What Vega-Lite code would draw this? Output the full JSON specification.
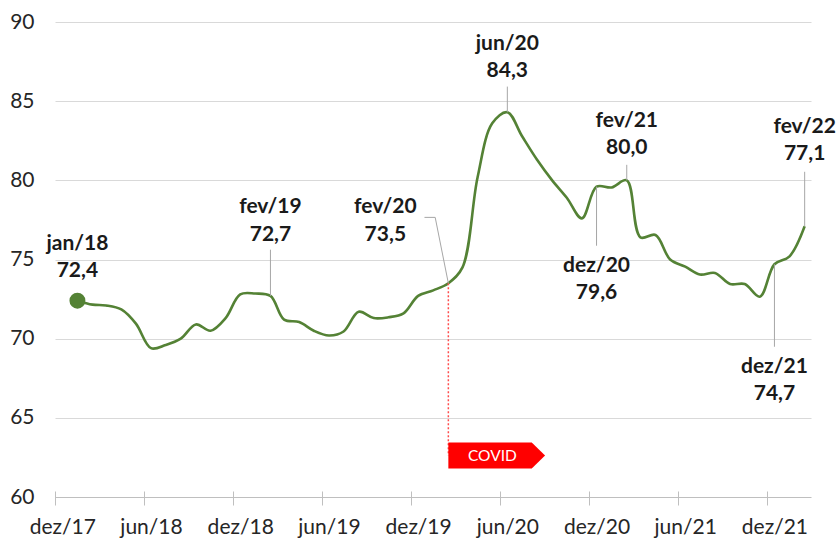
{
  "$schema": "https://vega.github.io/schema/vega-lite/v6.json",
  "width": 756,
  "height": 475,
  "autosize": {"type": "none"},
  "padding": {"left": 55, "top": 22, "right": 25, "bottom": 41},
  "background": "white",
  "config": {"view": {"stroke": null}, "font": "Lato"},
  "data": {"values": [
    {"m": "jan/18", "d": "2018-01-16", "v": 72.4},
    {"m": "fev/18", "d": "2018-02-16", "v": 72.15},
    {"m": "mar/18", "d": "2018-03-16", "v": 72.1},
    {"m": "abr/18", "d": "2018-04-16", "v": 71.85},
    {"m": "mai/18", "d": "2018-05-16", "v": 70.95},
    {"m": "jun/18", "d": "2018-06-16", "v": 69.4},
    {"m": "jul/18", "d": "2018-07-16", "v": 69.6},
    {"m": "ago/18", "d": "2018-08-16", "v": 70.0},
    {"m": "set/18", "d": "2018-09-16", "v": 70.9},
    {"m": "out/18", "d": "2018-10-16", "v": 70.5},
    {"m": "nov/18", "d": "2018-11-16", "v": 71.3},
    {"m": "dez/18", "d": "2018-12-16", "v": 72.8},
    {"m": "jan/19", "d": "2019-01-16", "v": 72.85},
    {"m": "fev/19", "d": "2019-02-16", "v": 72.7},
    {"m": "mar/19", "d": "2019-03-16", "v": 71.2},
    {"m": "abr/19", "d": "2019-04-16", "v": 71.05},
    {"m": "mai/19", "d": "2019-05-16", "v": 70.5},
    {"m": "jun/19", "d": "2019-06-16", "v": 70.2},
    {"m": "jul/19", "d": "2019-07-16", "v": 70.45},
    {"m": "ago/19", "d": "2019-08-16", "v": 71.7},
    {"m": "set/19", "d": "2019-09-16", "v": 71.3},
    {"m": "out/19", "d": "2019-10-16", "v": 71.35},
    {"m": "nov/19", "d": "2019-11-16", "v": 71.6},
    {"m": "dez/19", "d": "2019-12-16", "v": 72.7},
    {"m": "jan/20", "d": "2020-01-16", "v": 73.05},
    {"m": "fev/20", "d": "2020-02-16", "v": 73.5},
    {"m": "mar/20", "d": "2020-03-16", "v": 74.5},
    {"m": "abr/20", "d": "2020-04-16", "v": 80.2},
    {"m": "mai/20", "d": "2020-05-16", "v": 83.6},
    {"m": "jun/20", "d": "2020-06-16", "v": 84.3},
    {"m": "jul/20", "d": "2020-07-16", "v": 82.8},
    {"m": "ago/20", "d": "2020-08-16", "v": 81.3},
    {"m": "set/20", "d": "2020-09-16", "v": 80.0},
    {"m": "out/20", "d": "2020-10-16", "v": 78.9},
    {"m": "nov/20", "d": "2020-11-16", "v": 77.6},
    {"m": "dez/20", "d": "2020-12-16", "v": 79.6},
    {"m": "jan/21", "d": "2021-01-16", "v": 79.55},
    {"m": "fev/21", "d": "2021-02-16", "v": 80.0},
    {"m": "mar/21", "d": "2021-03-16", "v": 76.4},
    {"m": "abr/21", "d": "2021-04-16", "v": 76.55},
    {"m": "mai/21", "d": "2021-05-16", "v": 75.0},
    {"m": "jun/21", "d": "2021-06-16", "v": 74.55},
    {"m": "jul/21", "d": "2021-07-16", "v": 74.05},
    {"m": "ago/21", "d": "2021-08-16", "v": 74.15},
    {"m": "set/21", "d": "2021-09-16", "v": 73.45},
    {"m": "out/21", "d": "2021-10-16", "v": 73.45},
    {"m": "nov/21", "d": "2021-11-16", "v": 72.65},
    {"m": "dez/21", "d": "2021-12-16", "v": 74.7},
    {"m": "jan/22", "d": "2022-01-16", "v": 75.2},
    {"m": "fev/22", "d": "2022-02-16", "v": 77.1}
  ]},
  "encoding": {
    "x": {
      "field": "d", "type": "temporal", "title": null,
      "scale": {"type": "utc", "domain": [{"year": 2017, "month": 12, "date": 1, "utc": true}, {"year": 2022, "month": 3, "date": 1, "utc": true}]},
      "axis": {
        "values": [
          {"year": 2017, "month": 12, "date": 1, "utc": true},
          {"year": 2018, "month": 6, "date": 1, "utc": true},
          {"year": 2018, "month": 12, "date": 1, "utc": true},
          {"year": 2019, "month": 6, "date": 1, "utc": true},
          {"year": 2019, "month": 12, "date": 1, "utc": true},
          {"year": 2020, "month": 6, "date": 1, "utc": true},
          {"year": 2020, "month": 12, "date": 1, "utc": true},
          {"year": 2021, "month": 6, "date": 1, "utc": true},
          {"year": 2021, "month": 12, "date": 1, "utc": true}
        ],
        "labelExpr": "(utcmonth(datum.value) == 11 ? 'dez' : 'jun') + '/' + utcFormat(datum.value, '%y')",
        "labelOffset": 7.3,
        "offset": -6,
        "tickSize": 14,
        "tickColor": "#bfbfbf",
        "domain": false,
        "grid": false,
        "labelFontSize": 21,
        "labelColor": "#262626",
        "labelPadding": 11,
        "labelOverlap": false,
        "labelBound": false,
        "labelFlush": false
      }
    },
    "y": {
      "field": "v", "type": "quantitative", "title": null,
      "scale": {"domain": [60, 90], "zero": false, "nice": false},
      "axis": {
        "values": [60, 65, 70, 75, 80, 85, 90],
        "domain": false,
        "ticks": false,
        "labelPadding": 21,
        "labelFontSize": 21,
        "labelColor": "#262626",
        "grid": true,
        "gridColor": {"condition": {"test": "datum.value === 60", "value": "#bfbfbf"}, "value": "#d9d9d9"},
        "gridWidth": 1.2
      }
    }
  },
  "layer": [
    {"mark": {"type": "line", "interpolate": "catmull-rom", "color": "#548235", "strokeWidth": 2.6}},
    {
      "transform": [{"filter": "datum.m == 'fev/20'"}],
      "layer": [
        {"mark": {"type": "rule", "color": "#ff4d4d", "strokeWidth": 1.5, "strokeDash": [2, 2]}, "encoding": {"y2": {"datum": 62.62}}},
        {"mark": {"type": "point", "shape": "M0,-0.1344L0.8625,-0.1344L1,0L0.8625,0.1344L0,0.1344Z", "size": 37404, "filled": true, "color": "#ff0000", "opacity": 1, "strokeWidth": 0}, "encoding": {"y": {"datum": 62.62}}},
        {"mark": {"type": "text", "color": "white", "fontSize": 15.5, "dx": 44, "baseline": "middle", "align": "center"}, "encoding": {"y": {"datum": 62.62}, "text": {"value": "COVID"}}},
        {"mark": {"type": "rule", "color": "#a6a6a6", "strokeWidth": 1}, "encoding": {"x2": {"datum": {"year": 2020, "month": 1, "date": 20, "utc": true}}, "y2": {"datum": 77.66}}},
        {"mark": {"type": "rule", "color": "#a6a6a6", "strokeWidth": 1}, "encoding": {"x": {"datum": {"year": 2019, "month": 12, "date": 29, "utc": true}, "type": "temporal"}, "x2": {"datum": {"year": 2020, "month": 1, "date": 20, "utc": true}}, "y": {"datum": 77.66}}},
        {"mark": {"type": "text", "fontSize": 21, "fontWeight": "bold", "color": "#1a1a1a", "lineHeight": 27.5, "baseline": "alphabetic", "align": "center", "dx": -63}, "encoding": {"y": {"datum": 77.93}, "text": {"value": ["fev/20", "73,5"]}}}
      ]
    },
    {
      "transform": [{"filter": "datum.m == 'jan/18'"}],
      "layer": [
        {"mark": {"type": "point", "filled": true, "size": 254, "color": "#548235", "opacity": 1}},
        {"mark": {"type": "text", "fontSize": 21, "fontWeight": "bold", "color": "#1a1a1a", "lineHeight": 27.5, "baseline": "alphabetic", "align": "center"}, "encoding": {"y": {"datum": 75.62}, "text": {"value": ["jan/18", "72,4"]}}}
      ]
    },
    {
      "transform": [{"filter": "datum.m == 'fev/19'"}],
      "layer": [
        {"mark": {"type": "rule", "color": "#a6a6a6", "strokeWidth": 1}, "encoding": {"y2": {"datum": 75.62}}},
        {"mark": {"type": "text", "fontSize": 21, "fontWeight": "bold", "color": "#1a1a1a", "lineHeight": 27.5, "baseline": "alphabetic", "align": "center"}, "encoding": {"y": {"datum": 77.93}, "text": {"value": ["fev/19", "72,7"]}}}
      ]
    },
    {
      "transform": [{"filter": "datum.m == 'jun/20'"}],
      "layer": [
        {"mark": {"type": "rule", "color": "#a6a6a6", "strokeWidth": 1}, "encoding": {"y2": {"datum": 85.92}}},
        {"mark": {"type": "text", "fontSize": 21, "fontWeight": "bold", "color": "#1a1a1a", "lineHeight": 27.5, "baseline": "alphabetic", "align": "center"}, "encoding": {"y": {"datum": 88.25}, "text": {"value": ["jun/20", "84,3"]}}}
      ]
    },
    {
      "transform": [{"filter": "datum.m == 'dez/20'"}],
      "layer": [
        {"mark": {"type": "rule", "color": "#a6a6a6", "strokeWidth": 1}, "encoding": {"y2": {"datum": 75.87}}},
        {"mark": {"type": "text", "fontSize": 21, "fontWeight": "bold", "color": "#1a1a1a", "lineHeight": 27.5, "baseline": "alphabetic", "align": "center"}, "encoding": {"y": {"datum": 74.23}, "text": {"value": ["dez/20", "79,6"]}}}
      ]
    },
    {
      "transform": [{"filter": "datum.m == 'fev/21'"}],
      "layer": [
        {"mark": {"type": "rule", "color": "#a6a6a6", "strokeWidth": 1}, "encoding": {"y2": {"datum": 80.98}}},
        {"mark": {"type": "text", "fontSize": 21, "fontWeight": "bold", "color": "#1a1a1a", "lineHeight": 27.5, "baseline": "alphabetic", "align": "center"}, "encoding": {"y": {"datum": 83.37}, "text": {"value": ["fev/21", "80,0"]}}}
      ]
    },
    {
      "transform": [{"filter": "datum.m == 'dez/21'"}],
      "layer": [
        {"mark": {"type": "rule", "color": "#a6a6a6", "strokeWidth": 1}, "encoding": {"y2": {"datum": 69.49}}},
        {"mark": {"type": "text", "fontSize": 21, "fontWeight": "bold", "color": "#1a1a1a", "lineHeight": 27.5, "baseline": "alphabetic", "align": "center"}, "encoding": {"y": {"datum": 67.85}, "text": {"value": ["dez/21", "74,7"]}}}
      ]
    },
    {
      "transform": [{"filter": "datum.m == 'fev/22'"}],
      "layer": [
        {"mark": {"type": "rule", "color": "#a6a6a6", "strokeWidth": 1}, "encoding": {"y2": {"datum": 80.54}}},
        {"mark": {"type": "text", "fontSize": 21, "fontWeight": "bold", "color": "#1a1a1a", "lineHeight": 27.5, "baseline": "alphabetic", "align": "center"}, "encoding": {"y": {"datum": 82.99}, "text": {"value": ["fev/22", "77,1"]}}}
      ]
    }
  ]
}
